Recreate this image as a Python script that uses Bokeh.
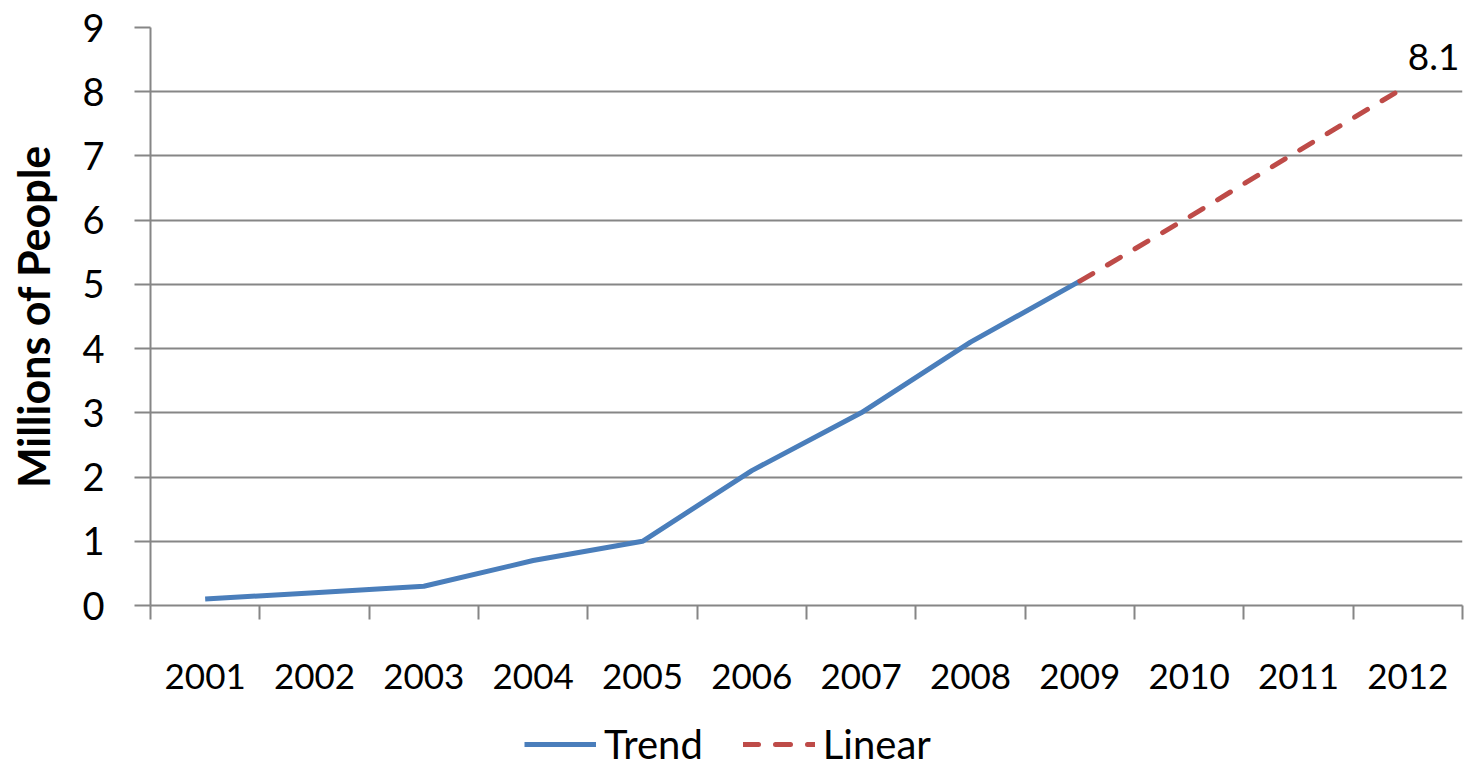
from bokeh.plotting import figure
from bokeh.layouts import column
from bokeh.models import Range1d, FixedTicker, Legend, LegendItem, ColumnDataSource
from bokeh.core.properties import value
from bokeh.embed import file_html
from bokeh.resources import INLINE

years = ["2001", "2002", "2003", "2004", "2005", "2006", "2007", "2008", "2009", "2010", "2011", "2012"]
trend = [0.1, 0.2, 0.3, 0.7, 1.0, 2.1, 3.0, 4.1, 5.05]
linear_years = ["2009", "2010", "2011", "2012"]
linear = [5.05, 6.05, 7.08, 8.1]
y_ticks = [0, 1, 2, 3, 4, 5, 6, 7, 8, 9]
series_names = ["Trend", "Linear"]

FONT = "Lato"
BLUE = "#4A7EBB"
RED = "#BE4B48"
GRID = "#868686"
DASH = "15 17"

pos = {y: i + 0.5 for i, y in enumerate(years)}
trend_x = [pos[y] for y in years[:len(trend)]]
linear_x = [pos[y] for y in linear_years]

p = figure(width=1464, height=712, output_backend="svg", toolbar_location=None,
           x_range=Range1d(0, len(years)), y_range=Range1d(0, 9),
           min_border_left=150, min_border_right=2, min_border_top=27, min_border_bottom=107)
p.outline_line_color = None
p.background_fill_color = "white"
p.border_fill_color = "white"

# x axis: labels at category centers, tick marks between categories
p.xaxis.ticker = FixedTicker(ticks=[pos[y] for y in years], minor_ticks=list(range(len(years) + 1)))
p.xaxis.major_label_overrides = {pos[y]: y for y in years}
p.xaxis.major_tick_out = 0
p.xaxis.major_tick_in = 0
p.xaxis.minor_tick_out = 14
p.xaxis.minor_tick_in = 0
p.xaxis.minor_tick_line_color = GRID
p.xaxis.minor_tick_line_width = 2
p.xaxis.axis_line_color = GRID
p.xaxis.axis_line_width = 2
p.xaxis.major_label_text_font = FONT
p.xaxis.major_label_text_font_size = "35px"
p.xaxis.major_label_text_color = "black"
p.xaxis.major_label_standoff = 44
p.xgrid.grid_line_color = None

p.yaxis.ticker = FixedTicker(ticks=y_ticks)
p.yaxis.major_tick_out = 16
p.yaxis.major_tick_in = 0
p.yaxis.minor_tick_line_color = None
p.yaxis.major_tick_line_color = GRID
p.yaxis.major_tick_line_width = 2
p.yaxis.axis_line_color = GRID
p.yaxis.axis_line_width = 2
p.yaxis.major_label_text_font = FONT
p.yaxis.major_label_text_font_size = "38px"
p.yaxis.major_label_text_color = "black"
p.yaxis.major_label_standoff = 30
p.yaxis.axis_label = "Millions of People"
p.yaxis.axis_label_text_font = FONT
p.yaxis.axis_label_text_font_size = "43px"
p.yaxis.axis_label_text_font_style = "bold"
p.yaxis.axis_label_text_color = "black"
p.yaxis.axis_label_standoff = 20
p.ygrid.grid_line_color = GRID
p.ygrid.grid_line_width = 2
p.ygrid.ticker = FixedTicker(ticks=y_ticks)

p.line(trend_x, trend, line_color=BLUE, line_width=5)
p.line(linear_x, linear, line_color=RED, line_width=5, line_dash=DASH, line_cap="round")

lab = ColumnDataSource(dict(x=[linear_x[-1]], y=[linear[-1]], t=[str(linear[-1])]))
p.text(x="x", y="y", text="t", source=lab, text_font=value(FONT), text_font_size="37px",
       text_color="black", text_align="left", text_baseline="bottom", x_offset=0, y_offset=-15)

# legend strip below the chart; its key lines use the same series, kept outside its visible range
q = figure(width=1464, height=56, output_backend="svg", toolbar_location=None,
           x_range=Range1d(0, len(years)), y_range=Range1d(-2, -1), min_border=0)
q.axis.visible = False
q.grid.visible = False
q.outline_line_color = None
q.background_fill_color = "white"
q.border_fill_color = "white"
k_trend = q.line(trend_x, trend, line_color=BLUE, line_width=5)
k_lin = q.line(linear_x, linear, line_color=RED, line_width=5, line_dash=DASH, line_cap="round")

legend = Legend(items=[LegendItem(label=series_names[0], renderers=[k_trend]),
                       LegendItem(label=series_names[1], renderers=[k_lin])],
                location=(374, 0), orientation="horizontal",
                label_text_font=FONT, label_text_font_size="40px", label_text_color="black",
                glyph_width=72, glyph_height=30, spacing=40, label_standoff=8,
                padding=0, margin=0, border_line_color=None, background_fill_alpha=0)
q.add_layout(legend, "center")

open("out.html", "w").write(file_html(column(p, q, spacing=0), INLINE))
